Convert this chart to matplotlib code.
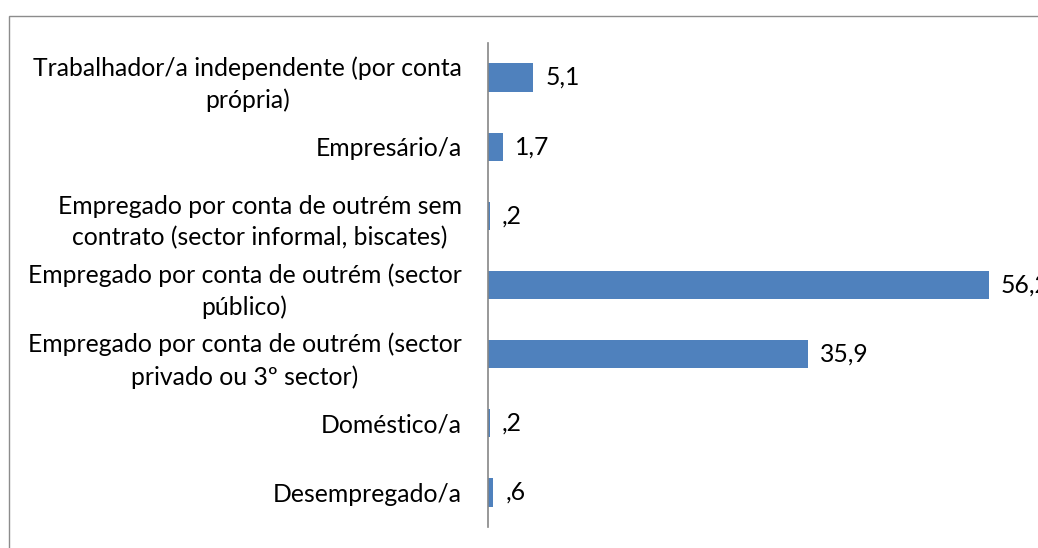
import matplotlib
matplotlib.use("Agg")
import matplotlib.pyplot as plt
from matplotlib.patches import Rectangle

categories = [
    "Trabalhador/a independente (por conta\nprópria)",
    "Empresário/a",
    "Empregado por conta de outrém sem\ncontrato (sector informal, biscates)",
    "Empregado por conta de outrém (sector\npúblico)",
    "Empregado por conta de outrém (sector\nprivado ou 3º sector)",
    "Doméstico/a",
    "Desempregado/a",
]
values = [5.1, 1.7, 0.2, 56.2, 35.9, 0.2, 0.6]
value_labels = ["5,1", "1,7", ",2", "56,2", "35,9", ",2", ",6"]

W, H = 1038, 548
fig = plt.figure(figsize=(W / 100, H / 100), dpi=100)
fig.patch.set_facecolor("white")

# outer chart border (only top and left visible)
fig.patches.append(Rectangle((9 / W, -0.5), 2.0, 0.5 + (1 - 16 / H),
                             transform=fig.transFigure, fill=False,
                             edgecolor="#8c8c8c", linewidth=1.0))

ax = fig.add_axes([488 / W, 1 - 527 / H, 1 - 488 / W, (527 - 43) / H])
ypos = list(range(len(categories)))
ax.barh(ypos, values, height=0.41, color="#4F81BD", edgecolor="none")
ax.set_ylim(len(categories) - 0.5, -0.5)
ax.set_xlim(0, (W - 488) / 8.91)

ax.set_yticks(ypos)
ax.set_yticklabels(categories, fontsize=17.8, family="Lato",
                   multialignment="center", linespacing=1.45, color="#000000")
ax.tick_params(axis="y", length=0, pad=19)
ax.set_xticks([])

for s in ["top", "right", "bottom"]:
    ax.spines[s].set_visible(False)
ax.spines["left"].set_color("#868686")
ax.spines["left"].set_linewidth(1.2)

for y, v, lab in zip(ypos, values, value_labels):
    ax.annotate(lab, xy=(v, y), xytext=(8.5, 0), textcoords="offset points",
                va="center", ha="left", fontsize=17.8, family="Lato",
                annotation_clip=False, clip_on=False)

fig.savefig("out.png", dpi=100)
